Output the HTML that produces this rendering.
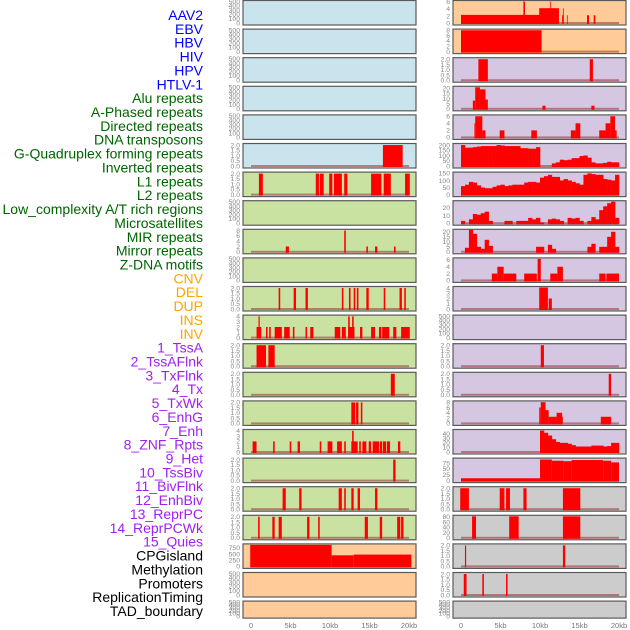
<!DOCTYPE html>
<html><head><meta charset="utf-8">
<style>
html,body{margin:0;padding:0;background:#fff;}
#wrap{position:relative;width:630px;height:630px;overflow:hidden;font-family:"Liberation Sans",sans-serif;}
svg text{font-family:"Liberation Sans",sans-serif;}
</style></head>
<body>
<div id="wrap">
<svg id="chart" width="630" height="630" viewBox="0 0 630 630" xmlns="http://www.w3.org/2000/svg"></svg>
</div>
<script>
// ---------- data ----------
const trackLabels=["AAV2","EBV","HBV","HIV","HPV","HTLV-1","Alu repeats","A-Phased repeats","Directed repeats","DNA transposons","G-Quadruplex forming repeats","Inverted repeats","L1 repeats","L2 repeats","Low_complexity A/T rich regions","Microsatellites","MIR repeats","Mirror repeats","Z-DNA motifs","CNV","DEL","DUP","INS","INV","1_TssA","2_TssAFlnk","3_TxFlnk","4_Tx","5_TxWk","6_EnhG","7_Enh","8_ZNF_Rpts","9_Het","10_TssBiv","11_BivFlnk","12_EnhBiv","13_ReprPC","14_ReprPCWk","15_Quies","CPGisland","Methylation","Promoters","ReplicationTiming","TAD_boundary"];
const labelGroups=[0,0,0,0,0,0,1,1,1,1,1,1,1,1,1,1,1,1,1,2,2,2,2,2,3,3,3,3,3,3,3,3,3,3,3,3,3,3,3,4,4,4,4,4];
const xTickLabels=["0","5kb","10kb","15kb","20kb"];
const xTickValues=[0,5,10,15,20];

// left column interval tracks (start kb, end kb, value)
const L5s=[16.7]; const L5e=[19.2]; const L5v=[2];
const L6s=[1.0,8.2,8.7,9.9,10.5,11.8,15.2,16.8,19.5]; const L6e=[1.5,8.6,9.2,10.3,11.5,12.2,16.5,17.7,20.1]; const L6v=[2,2,2,2,2,2,2,2,2];
const L8s=[4.4,11.8,14.6,15.7,18.1]; const L8e=[4.8,12.0,14.8,16.0,18.3]; const L8v=[2,8,2,2,2];
const L10s=[3.5,5.4,6.9,11.5,12.4,13.0,13.4,14.6,16.8,18.8,19.4]; const L10e=[3.7,5.7,7.2,11.7,12.6,13.2,13.6,14.9,17.0,19.1,19.6]; const L10v=[2,2,2,2,2,2,2,2,2,2,2];
const L11s=[0.7,0.95,1.9,2.3,3.0,4.2,5.3,6.9,7.5,10.6,11.5,12.3,12.3,12.8,13.8,15.2,16.2,16.6,18.0,19.0]; const L11e=[1.3,1.1,2.1,2.5,3.9,4.9,5.5,7.1,7.9,11.3,12.0,13.1,12.5,13.0,14.1,15.7,16.5,17.5,18.4,20.1]; const L11v=[2,4,2,2,2,2,2,2,2,2,2,2,4,4,2,2,2,2,2,2];
const L12s=[0.7,2.2]; const L12e=[1.9,3.0]; const L12v=[2,2];
const L13s=[17.7]; const L13e=[18.2]; const L13v=[2];
const L14s=[12.7,13.3,13.9]; const L14e=[13.2,13.6,14.1]; const L14v=[2,2,2];
const L15s=[0.2,2.8,4.9,5.9,8.7,9.7,10.9,11.8,12.7,12.8,13.7,14.1,14.9,15.4,16.3,16.7,17.2,18.6]; const L15e=[0.7,3.0,5.1,6.2,8.9,10.3,11.5,12.0,13.5,13.0,13.9,14.6,15.2,16.2,16.6,17.1,17.6,18.9]; const L15v=[2,2,2,2,2,2,2,2,2,4,2,2,2,2,2,2,2,2];
const L16s=[18.0]; const L16e=[18.3]; const L16v=[2];
const L17s=[4.0,6.1,11.1,11.8,12.7,13.5,15.7]; const L17e=[4.4,6.4,11.5,12.0,13.0,13.8,16.0]; const L17v=[2,2,2,2,2,2,2];
const L18s=[0.9,2.7,3.5,7.1,8.5,14.4,16.3,18.5,19.0]; const L18e=[1.1,3.0,3.9,7.4,8.7,14.8,16.6,18.9,19.3]; const L18v=[2,2,2,2,2,2,2,2,2];
const L19s=[-0.1,10.2,13.0]; const L19e=[10.2,13.0,20.3]; const L19v=[864,445,475];

// right column interval tracks
const R0s=[0,7.9,9.9,11.3,12.8,12.9,13.4,15.95,16.8]; const R0e=[10.2,8.1,12.4,11.4,13.0,13.0,13.5,16.2,17.0]; const R0v=[2.3,6.1,4.2,6.1,2.2,4.2,2.2,2.2,2.2];
const R1s=[0]; const R1e=[10.2]; const R1v=[8];
const R2s=[2.2,16.3]; const R2e=[3.4,16.7]; const R2v=[2,2];
const R3s=[1.5,1.8,2.4,3.1,10.3,16.5]; const R3e=[1.8,2.4,3.1,3.4,10.7,16.9]; const R3v=[8,21,19,9,3,3];
const R4s=[1.7,1.8,2.7,4.9,8.9,13.9,14.5,17.5,18.3,18.9,19.5]; const R4e=[1.8,2.7,3.1,5.5,9.6,14.5,15.1,18.3,18.9,19.5,19.7]; const R4v=[4,6,2,2,2,2,4,2,4,6,2];
const R9s=[3.9,4.6,5.4,8.0,9.7,11.3,12.2,17.5,18.4]; const R9e=[4.6,5.4,7.0,9.6,10.1,12.2,12.9,18.3,20.0]; const R9v=[2,4,2,2,6.3,2,4,2,2];
const R10s=[9.9,11.1]; const R10e=[11.0,11.5]; const R10v=[4.1,2];
const R12s=[10.1]; const R12e=[10.5]; const R12v=[2];
const R13s=[18.7]; const R13e=[19.0]; const R13v=[2];
const R14s=[9.9,10.1,10.7,11.1,12.1,12.8,17.7]; const R14e=[10.1,10.7,11.1,12.1,12.8,12.9,19.0]; const R14v=[6,8,5,2.5,4,2.5,2.5];
const R16s=[0,10,11.5,13,14,18,19]; const R16e=[10,11.5,13,14,18,19,20]; const R16v=[10,90,85,83,88,85,78];
const R17s=[-0.1,4.9,5.7,7.9,12.9]; const R17e=[1.0,5.5,6.2,8.3,15.1]; const R17v=[2,2,2,2,2];
const R18s=[1.4,6.1,12.9]; const R18e=[1.9,7.3,15.1]; const R18v=[82,82,82];
const R19s=[0.5,12.9]; const R19e=[0.65,13.2]; const R19v=[2,2];
const R20s=[0.35,2.7,5.7]; const R20e=[0.7,2.9,5.9]; const R20v=[2,2,2];

// right column binned tracks (0.5 kb bins, 0..20 kb)
const R5bins=[200,175,175,180,185,190,190,190,190,200,195,190,190,190,190,170,170,165,165,180,0,0,0,25,35,60,55,60,75,75,95,100,80,35,25,25,30,40,35,35];
const R6bins=[60,70,90,85,65,50,45,45,55,65,70,60,65,70,70,70,85,90,90,85,120,130,140,125,125,100,110,100,90,80,70,140,150,145,140,140,110,105,100,140];
const R7bins=[3,0,5,12,11,13,15,3,0,0,0,3,3,0,3,3,3,7,5,7,1,0,5,6,5,3,0,7,6,7,3,0,3,8,5,17,22,26,28,7];
const R8bins=[0,4,22,18,5,3,12,6,0,0,0,0,0,0,0,0,0,0,0,5,5,0,7,3,0,0,0,0,0,0,0,0,5,8,0,5,5,15,20,5];
const R15bins=[0,0,0,0,0,0,0,0,0,0,0,0,0,0,0,0,0,0,0,0,47,42,36,28,22,20,20,18,15,12,12,12,12,14,14,14,12,13,20,20];

// ---------- layout ----------
const svg=document.getElementById('chart');
const NS='http://www.w3.org/2000/svg';
const colX=[243,453]; const colW=173; const zeroX=[251,461]; const pxPerKb=7.9;
const rowTop=r=>0.5+r*28.6;
const rowH=r=>r===21?17:24.5;
const BG={blue:'#c9e4ec',green:'#c9e2a2',orange:'#ffcc99',purple:'#d5c6e2',gray:'#cccccc'};
const labelColors=['#0000ff','#006400','#ffa500','#a020f0','#000000'];
const T2=[0,0.5,1,1.5,2]; const T2L=["0.0","0.5","1.0","1.5","2.0"];
const TB=[0,100,200,300,400,500];

function el(tag,attrs,parent){const e=document.createElementNS(NS,tag);for(const k in attrs)e.setAttribute(k,attrs[k]);(parent||svg).appendChild(e);return e;}
function xs(col,kb){return zeroX[col]+kb*pxPerKb;}
function ys(col,row,v,max){const top=rowTop(row),h=rowH(row);const y0=top+h-2;return y0-(v/max)*(h-3);}

// labels
for(let i=0;i<trackLabels.length;i++){
  const t=el('text',{x:203,y:15+i*13.86+5,'text-anchor':'end','font-size':'14',fill:labelColors[labelGroups[i]]});
  
  
  t.textContent=trackLabels[i];
}

function panel(col,row,bg,ticks,tickLabels,max,name){
  const top=rowTop(row),h=rowH(row);
  const g=el('g',{});
  
  
  el('rect',{x:colX[col],y:top,width:colW,height:h,fill:bg,stroke:'#5a5a5a','stroke-width':1.2},g);
  for(let i=0;i<ticks.length;i++){
    const tt=el('text',{x:colX[col]-3,y:ys(col,row,ticks[i],max)+2.3,'text-anchor':'end','font-size':'6.8',fill:'#888'},g);
    
    
    tt.textContent=tickLabels[i];
  }
  return g;
}
function baseline(g,col,row,max){
  const y=ys(col,row,0,max);
  const b=el('rect',{x:xs(col,0),y:y-1,width:20*pxPerKb,height:2,fill:'rgba(150,50,50,0.55)'},g);
  
  
}
function intervals(g,col,row,s,e,v,max){
  const y0=ys(col,row,0,max);
  for(let i=0;i<s.length;i++){
    const y=ys(col,row,v[i],max);
    const r=el('rect',{x:xs(col,s[i]),y:y,width:Math.max(0.8,(e[i]-s[i])*pxPerKb),height:y0-y+1,fill:'#ff0000'},g);
    
    
  }
}
function bins(g,col,row,vals,max){
  const y0=ys(col,row,0,max);
  for(let i=0;i<vals.length;i++){
    if(vals[i]<=0)continue;
    const y=ys(col,row,vals[i],max);
    const r=el('rect',{x:xs(col,i*0.5),y:y,width:0.5*pxPerKb+0.3,height:y0-y+1,fill:'#ff0000'},g);
    
    
  }
}
function blank(col,row,bg,name){
  const lbl=TB.map(String);
  return panel(col,row,bg,TB,lbl,500,name);
}
const two=(col,row,bg,name,s,e,v)=>{const g=panel(col,row,bg,T2,T2L,2.05,name);baseline(g,col,row,2.05);intervals(g,col,row,s,e,v,2.05);};
const tk=a=>a.map(String);

// left column
for(let r=0;r<5;r++) blank(0,r,BG.blue,'left-panel-'+r);
two(0,5,BG.blue,'left-panel-5',L5s,L5e,L5v);
two(0,6,BG.green,'left-panel-6',L6s,L6e,L6v);
blank(0,7,BG.green,'left-panel-7');
{const t=[0,2,4,6,8];const g=panel(0,8,BG.green,t,tk(t),8.1,'left-panel-8');baseline(g,0,8,8.1);intervals(g,0,8,L8s,L8e,L8v,8.1);}
blank(0,9,BG.green,'left-panel-9');
two(0,10,BG.green,'left-panel-10',L10s,L10e,L10v);
{const t=[0,1,2,3,4];const g=panel(0,11,BG.green,t,tk(t),4.05,'left-panel-11');baseline(g,0,11,4.05);intervals(g,0,11,L11s,L11e,L11v,4.05);}
two(0,12,BG.green,'left-panel-12',L12s,L12e,L12v);
two(0,13,BG.green,'left-panel-13',L13s,L13e,L13v);
two(0,14,BG.green,'left-panel-14',L14s,L14e,L14v);
{const t=[0,1,2,3,4];const g=panel(0,15,BG.green,t,tk(t),4.05,'left-panel-15');baseline(g,0,15,4.05);intervals(g,0,15,L15s,L15e,L15v,4.05);}
two(0,16,BG.green,'left-panel-16',L16s,L16e,L16v);
two(0,17,BG.green,'left-panel-17',L17s,L17e,L17v);
two(0,18,BG.green,'left-panel-18',[0.9,2.7,3.5,7.1,8.5,14.4,16.3,18.5,19.0],L18e,L18v);
{const t=[0,250,500,750];const g=panel(0,19,BG.orange,t,tk(t),864,'left-panel-19');intervals(g,0,19,L19s,L19e,L19v,864);}
blank(0,20,BG.orange,'left-panel-20');
blank(0,21,BG.orange,'left-panel-21');

// right column
function rp(row,bg,t,max,s,e,v){const g=panel(1,row,bg,t,tk(t),max,'right-panel-'+row);baseline(g,1,row,max);intervals(g,1,row,s,e,v,max);}
function rb(row,bg,t,max,vals){const g=panel(1,row,bg,t,tk(t),max,'right-panel-'+row);baseline(g,1,row,max);bins(g,1,row,vals,max);}
rp(0,BG.orange,[0,2,4,6],6.1,R0s,R0e,R0v);
rp(1,BG.orange,[0,2,4,6,8],8.05,R1s,R1e,R1v);
two(1,2,BG.purple,'right-panel-2',R2s,R2e,R2v);
rp(3,BG.purple,[0,5,10,15,20],21,R3s,R3e,R3v);
rp(4,BG.purple,[0,2,4,6],6.1,R4s,R4e,R4v);
rb(5,BG.purple,[0,50,100,150,200],205,R5bins);
rb(6,BG.purple,[0,50,100,150],152,R6bins);
rb(7,BG.purple,[0,10,20],28,R7bins);
rb(8,BG.purple,[0,5,10,15,20],21.5,R8bins);
rp(9,BG.purple,[0,2,4,6],6.3,R9s,R9e,R9v);
rp(10,BG.purple,[0,1,2,3,4],4.1,R10s,R10e,R10v);
blank(1,11,BG.purple,'right-panel-11');
two(1,12,BG.purple,'right-panel-12',R12s,R12e,R12v);
two(1,13,BG.purple,'right-panel-13',R13s,R13e,R13v);
rp(14,BG.purple,[0,2,4,6,8],8.1,R14s,R14e,R14v);
rb(15,BG.purple,[0,10,20,30,40],47,R15bins);
rp(16,BG.purple,[0,25,50,75],92,R16s,R16e,R16v);
two(1,17,BG.gray,'right-panel-17',R17s,R17e,R17v);
rp(18,BG.gray,[0,20,40,60,80],82,R18s,R18e,R18v);
two(1,19,BG.gray,'right-panel-19',R19s,R19e,R19v);
two(1,20,BG.gray,'right-panel-20',R20s,R20e,R20v);
blank(1,21,BG.gray,'right-panel-21');

// x axes
for(let c=0;c<2;c++){
  for(let i=0;i<xTickValues.length;i++){
    const t=el('text',{x:xs(c,xTickValues[i]),y:628,'text-anchor':'middle','font-size':'7.5',fill:'#777'});
    
    
    t.textContent=xTickLabels[i];
  }
}
</script>
</body></html>
